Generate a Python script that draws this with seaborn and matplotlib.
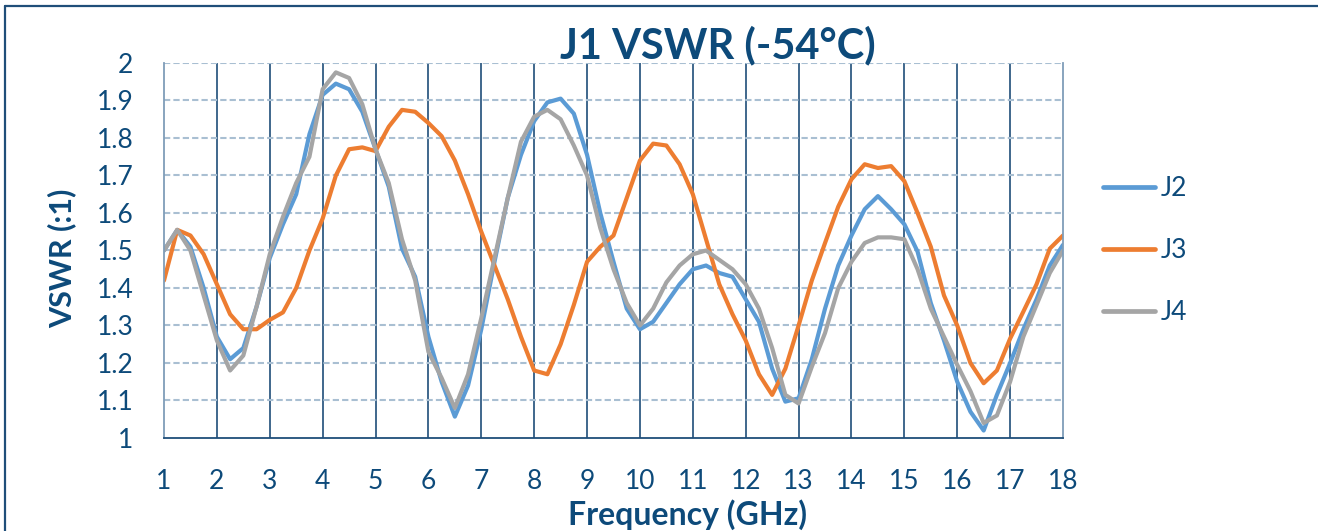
import numpy as np
import pandas as pd
import matplotlib
matplotlib.use("Agg")
import matplotlib.pyplot as plt
from matplotlib.lines import Line2D
import seaborn as sns

# frequency grid (GHz) and VSWR
freq = np.arange(1.0, 18.01, 0.25)

j2 = [1.50, 1.555, 1.51, 1.40, 1.27, 1.21, 1.24, 1.35, 1.48, 1.57, 1.65, 1.81,
      1.915, 1.945, 1.93, 1.87, 1.77, 1.67, 1.505, 1.43, 1.27, 1.15, 1.057, 1.14,
      1.29, 1.47, 1.64, 1.755, 1.845, 1.895, 1.905, 1.865, 1.755, 1.60, 1.47, 1.345,
      1.29, 1.31, 1.36, 1.41, 1.45, 1.46, 1.44, 1.43, 1.37, 1.31, 1.185, 1.097,
      1.106, 1.21, 1.345, 1.46, 1.54, 1.61, 1.645, 1.61, 1.57, 1.497, 1.36, 1.26,
      1.15, 1.07, 1.02, 1.115, 1.20, 1.29, 1.37, 1.46, 1.515]

j3 = [1.42, 1.555, 1.54, 1.49, 1.41, 1.33, 1.29, 1.29, 1.315, 1.335, 1.40, 1.50,
      1.585, 1.70, 1.77, 1.775, 1.765, 1.83, 1.875, 1.87, 1.84, 1.805, 1.74, 1.65,
      1.55, 1.46, 1.37, 1.27, 1.18, 1.17, 1.25, 1.355, 1.47, 1.51, 1.54, 1.64,
      1.74, 1.785, 1.78, 1.73, 1.65, 1.53, 1.41, 1.33, 1.26, 1.17, 1.115, 1.185,
      1.30, 1.42, 1.52, 1.617, 1.69, 1.73, 1.72, 1.725, 1.685, 1.60, 1.51, 1.38,
      1.30, 1.20, 1.146, 1.18, 1.265, 1.337, 1.41, 1.505, 1.54]

j4 = [1.50, 1.555, 1.50, 1.38, 1.26, 1.18, 1.22, 1.35, 1.49, 1.59, 1.68, 1.75,
      1.93, 1.975, 1.96, 1.89, 1.77, 1.68, 1.53, 1.42, 1.23, 1.16, 1.08, 1.17,
      1.32, 1.48, 1.64, 1.79, 1.857, 1.875, 1.85, 1.78, 1.70, 1.56, 1.45, 1.36,
      1.30, 1.345, 1.415, 1.46, 1.49, 1.50, 1.475, 1.45, 1.41, 1.345, 1.24, 1.115,
      1.092, 1.19, 1.28, 1.40, 1.47, 1.52, 1.535, 1.535, 1.53, 1.45, 1.345, 1.27,
      1.195, 1.125, 1.04, 1.06, 1.15, 1.27, 1.355, 1.44, 1.50]

series = ["J2", "J3", "J4"]
colors = ["#5B9BD5", "#ED7D31", "#A5A5A5"]
x_ticks = list(range(1, 19))
y_ticks = [1, 1.1, 1.2, 1.3, 1.4, 1.5, 1.6, 1.7, 1.8, 1.9, 2]
y_tick_labels = ["1", "1.1", "1.2", "1.3", "1.4", "1.5", "1.6", "1.7", "1.8", "1.9", "2"]

df = pd.DataFrame({"Frequency": np.tile(freq, 3),
                   "VSWR": j2 + j3 + j4,
                   "Series": np.repeat(series, len(freq))})

sns.set_style("white")
plt.rcParams["font.family"] = ["Lato", "DejaVu Sans"]
navy = "#0D4A7A"

fig = plt.figure(figsize=(13.18, 5.31), dpi=100)
ax = fig.add_axes([164 / 1318, 93 / 531, 899 / 1318, 375 / 531])

sns.lineplot(data=df, x="Frequency", y="VSWR", hue="Series",
             palette=dict(zip(series, colors)), linewidth=3.0, ax=ax,
             solid_joinstyle="round", solid_capstyle="round")

ax.set_xlim(1, 18)
ax.set_ylim(1, 2)
ax.set_xticks(x_ticks)
ax.set_yticks(y_ticks)
ax.set_yticklabels(y_tick_labels)
ax.tick_params(axis="both", length=0, labelsize=19, colors=navy)
ax.tick_params(axis="x", pad=22)
ax.tick_params(axis="y", pad=22)

# gridlines: solid dark verticals, dashed light horizontals
for xv in x_ticks[1:-1]:
    ax.axvline(xv, color="#1F4E79", linewidth=1.2, zorder=0)
for yv in y_ticks[1:]:
    ax.axhline(yv, color="#A9BFD2", linewidth=1.5, linestyle=(0, (3, 1.5)), zorder=0)

for side in ["left", "right"]:
    ax.spines[side].set_color("#7F9DB9")
    ax.spines[side].set_linewidth(1.3)
ax.spines["top"].set_visible(False)
ax.spines["bottom"].set_color("#1F4E79")
ax.spines["bottom"].set_linewidth(1.3)

ax.set_xlabel("Frequency (GHz)", fontsize=23, fontweight="bold", color=navy, va="bottom")
ax.set_ylabel("VSWR (:1)", fontsize=22, fontweight="bold", color=navy, va="center")
ax.xaxis.set_label_coords((688 - 164) / 899, -(530 - 438) / 375)
ax.yaxis.set_label_coords(-(164 - 62) / 899, (438 - 258) / 375)

fig.text(718 / 1318, 1 - 45 / 531, "J1 VSWR (-54°C)", fontsize=30, fontweight="bold",
         color=navy, ha="center", va="center")

leg = ax.legend(loc="center left", bbox_to_anchor=(1.045, 0.5), frameon=False,
                fontsize=19, handlelength=1.95, handletextpad=0.2, labelspacing=1.4,
                borderaxespad=0, borderpad=0)
for t in leg.get_texts():
    t.set_color(navy)
for h in leg.get_lines():
    h.set_linewidth(3.4)

# chart border (left and top edges visible)
fig.add_artist(Line2D([5 / 1318, 5 / 1318], [0, 1 - 6 / 531], color="#1F4E79", linewidth=1.6))
fig.add_artist(Line2D([5 / 1318, 1], [1 - 6 / 531, 1 - 6 / 531], color="#1F4E79", linewidth=1.6))

fig.savefig("out.png", dpi=100)
